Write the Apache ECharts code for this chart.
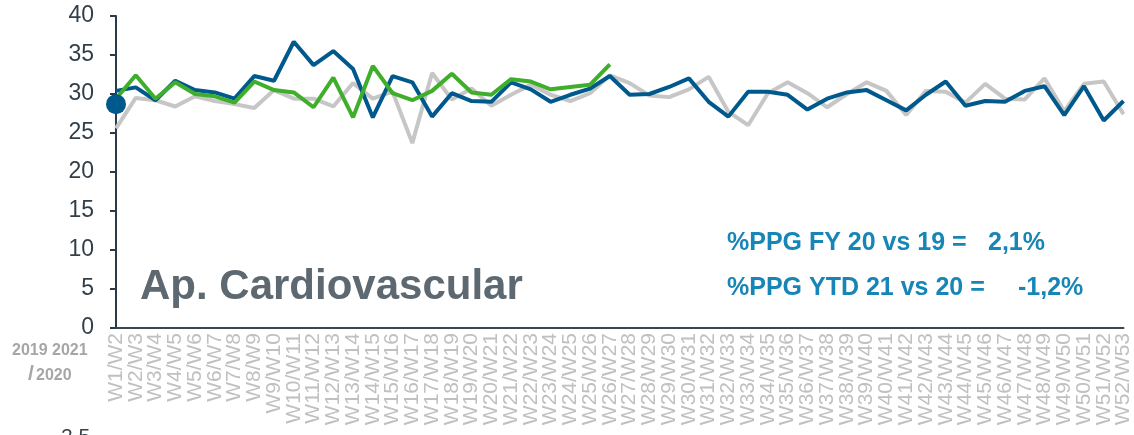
<!DOCTYPE html>
<html>
<head>
<meta charset="utf-8">
<script src="https://cdn.jsdelivr.net/npm/echarts@6/dist/echarts.min.js"></script>
<style>html,body{margin:0;padding:0;background:#fff}#c{width:1134px;height:435px}</style>
</head>
<body>
<div id="c"></div>
<script>
const categories = ["W1/W2","W2/W3","W3/W4","W4/W5","W5/W6","W6/W7","W7/W8","W8/W9","W9/W10","W10/W11","W11/W12","W12/W13","W13/W14","W14/W15","W15/W16","W16/W17","W17/W18","W18/W19","W19/W20","W20/W21","W21/W22","W22/W23","W23/W24","W24/W25","W25/W26","W26/W27","W27/W28","W28/W29","W29/W30","W30/W31","W31/W32","W32/W33","W33/W34","W34/W35","W35/W36","W36/W37","W37/W38","W38/W39","W39/W40","W40/W41","W41/W42","W42/W43","W43/W44","W44/W45","W45/W46","W46/W47","W47/W48","W48/W49","W49/W50","W50/W51","W51/W52","W52/W53"];
const values2019 = [25.6,29.5,29.2,28.4,29.7,29.1,28.7,28.2,30.5,29.4,29.4,28.4,31.4,29.4,30.3,23.7,32.7,29.3,30.7,28.5,29.9,31.2,29.9,29.1,30.1,32.4,31.4,29.8,29.6,30.6,32.2,27.7,26.0,30.1,31.5,30.1,28.3,30.0,31.5,30.4,27.3,30.4,30.3,28.9,31.3,29.4,29.3,32.0,27.8,31.3,31.6,27.4];
const values2020 = [30.4,30.85,29.2,31.7,30.5,30.2,29.4,32.3,31.7,36.7,33.7,35.5,33.2,27.0,32.3,31.5,27.1,30.1,29.1,29.0,31.5,30.6,29.0,29.9,30.7,32.3,29.9,30.0,30.9,32.0,29.0,27.1,30.3,30.3,29.9,28.0,29.4,30.2,30.5,29.2,27.9,29.9,31.6,28.5,29.1,29.0,30.4,31.0,27.3,31.0,26.6,29.1];
const values2021 = [29.4,32.4,29.4,31.5,30.0,29.7,28.9,31.6,30.5,30.2,28.3,32.1,27.0,33.6,30.1,29.2,30.4,32.6,30.2,29.9,31.9,31.6,30.6,30.9,31.2,33.8];
const markerValue = 28.7;
const yTicks = [0,5,10,15,20,25,30,35,40];

const chart = echarts.init(document.getElementById('c'), null, {renderer:'canvas'});
const font = 'Liberation Sans, Arial, sans-serif';
chart.setOption({
  animation:false,
  grid:{left:116,right:7,top:16,bottom:107,containLabel:false},
  xAxis:{
    type:'category', data:categories, boundaryGap:false,
    axisLine:{lineStyle:{color:'#3a4650',width:2}},
    axisTick:{show:false},
    axisLabel:{rotate:90,interval:0,color:'#c0c0c0',fontSize:21,fontFamily:font,margin:5}
  },
  yAxis:{
    type:'value', min:yTicks[0], max:yTicks[yTicks.length-1], interval:5,
    splitLine:{show:false},
    axisLine:{show:true,lineStyle:{color:'#2a3a48',width:2}},
    axisTick:{show:true,length:6,lineStyle:{color:'#2a3a48',width:2}},
    axisLabel:{color:'#333f48',fontSize:23,fontFamily:font,margin:22}
  },
  series:[
    {name:'2019',type:'line',data:values2019,symbol:'none',lineStyle:{color:'#c6c6c6',width:4},z:2},
    {name:'2020',type:'line',data:values2020,symbol:'none',lineStyle:{color:'#00598c',width:4},z:3},
    {name:'2021',type:'line',data:values2021,symbol:'none',lineStyle:{color:'#3fae2a',width:4},z:4},
    {name:'marker',type:'scatter',data:[[0,markerValue]],symbol:'circle',symbolSize:20,itemStyle:{color:'#00598c',opacity:1},z:5}
  ],
  graphic:[
    {type:'text',left:140,top:266,style:{text:'Ap. Cardiovascular',font:'bold 42px '+font,fill:'#5d6871'}},
    {type:'text',left:727,top:231,style:{text:'%PPG FY 20 vs 19 =',font:'bold 25px '+font,fill:'#1786b6'}},
    {type:'text',left:988,top:231,style:{text:'2,1%',font:'bold 25px '+font,fill:'#1786b6'}},
    {type:'text',left:727,top:276,style:{text:'%PPG YTD 21 vs 20 =',font:'bold 25px '+font,fill:'#1786b6'}},
    {type:'text',left:1018,top:276,style:{text:'-1,2%',font:'bold 25px '+font,fill:'#1786b6'}},
    {type:'text',left:12,top:343,style:{text:'2019 2021',font:'bold 16px '+font,fill:'#a6a6a6'}},
    {type:'text',left:28,top:364,style:{text:'/',font:'bold 21px '+font,fill:'#a6a6a6'}},
    {type:'text',left:36,top:368,style:{text:'2020',font:'bold 16px '+font,fill:'#a6a6a6'}},
    {type:'text',left:61,top:427,style:{text:'2,5',font:'21px '+font,fill:'#333f48'}}
  ]
});
</script>
</body>
</html>
